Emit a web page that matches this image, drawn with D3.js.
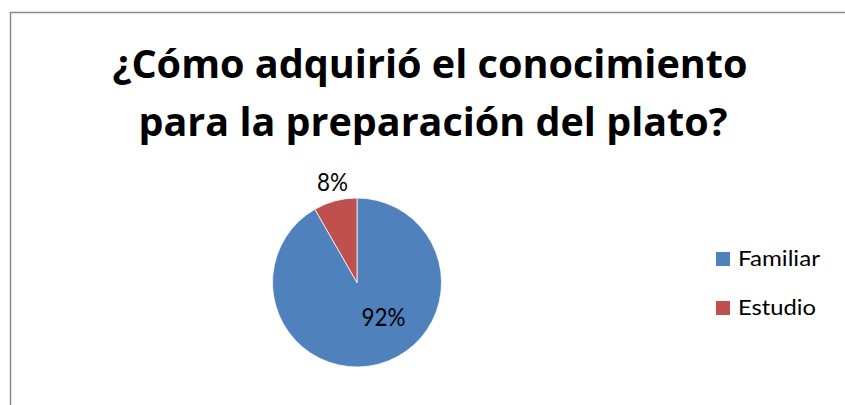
<!DOCTYPE html>
<html>
<head>
<meta charset="utf-8">
<script src="https://cdn.jsdelivr.net/npm/d3@7"></script>
<style>
  html, body { margin: 0; padding: 0; background: #fff; }
  svg { display: block; }
</style>
</head>
<body>
<script>
const titleLines = ["¿Cómo adquirió el conocimiento", "para la preparación del plato?"];
const categories = ["Familiar", "Estudio"];
const values = [91.7, 8.3];
const labels = ["92%", "8%"];
const colors = ["#4F81BD", "#C0504D"];

const W = 845, H = 405;
const svg = d3.select("body").append("svg").attr("width", W).attr("height", H);

svg.append("rect").attr("width", W).attr("height", H).attr("fill", "#fff");
svg.append("rect")
  .attr("x", 10.5).attr("y", 12.5).attr("width", W + 20).attr("height", H + 20)
  .attr("fill", "none").attr("stroke", "#8a8a8a").attr("stroke-width", 1.5);

const titleFont = "'Open Sans', Lato, sans-serif";
const font = "Lato, 'Open Sans', sans-serif";

// Title
const titleY = [78, 136];
const titleW = [635, 589];
const titleX = [430, 433];
titleLines.forEach((t, i) => {
  svg.append("text")
    .attr("x", titleX[i]).attr("y", titleY[i])
    .attr("text-anchor", "middle")
    .attr("font-family", titleFont).attr("font-weight", "bold")
    .attr("font-size", 39).attr("fill", "#000")
    .attr("textLength", titleW[i]).attr("lengthAdjust", "spacingAndGlyphs")
    .text(t);
});

// Pie
const cx = 357, cy = 282.5, r = 84.5;
const data = categories.map((c, i) => ({ cat: c, value: values[i], label: labels[i], color: colors[i] }));
const pie = d3.pie().value(d => d.value).sort(null);
const arc = d3.arc().innerRadius(0).outerRadius(r);
const g = svg.append("g").attr("transform", `translate(${cx},${cy})`);
const arcs = pie(data);
g.selectAll("path").data(arcs).join("path")
  .attr("d", arc).attr("fill", d => d.data.color)
  .attr("stroke", "#fff").attr("stroke-width", 0.75);

// Data labels
const labelPos = [[383.5, 326], [332.5, 190.5]];
const labelW = [44, 31];
arcs.forEach((a, i) => {
  svg.append("text")
    .attr("x", labelPos[i][0]).attr("y", labelPos[i][1])
    .attr("text-anchor", "middle")
    .attr("font-family", font).attr("font-size", 25).attr("fill", "#000")
    .attr("textLength", labelW[i]).attr("lengthAdjust", "spacingAndGlyphs")
    .text(a.data.label);
});

// Legend
const legY = [252, 301];
const legW = [82, 78];
data.forEach((d, i) => {
  svg.append("rect").attr("x", 716).attr("y", legY[i]).attr("width", 14).attr("height", 14).attr("fill", d.color);
  svg.append("text")
    .attr("x", 738).attr("y", legY[i] + 14)
    .attr("font-family", font).attr("font-size", 22).attr("fill", "#000")
    .attr("textLength", legW[i]).attr("lengthAdjust", "spacingAndGlyphs")
    .text(d.cat);
});
</script>
</body>
</html>
